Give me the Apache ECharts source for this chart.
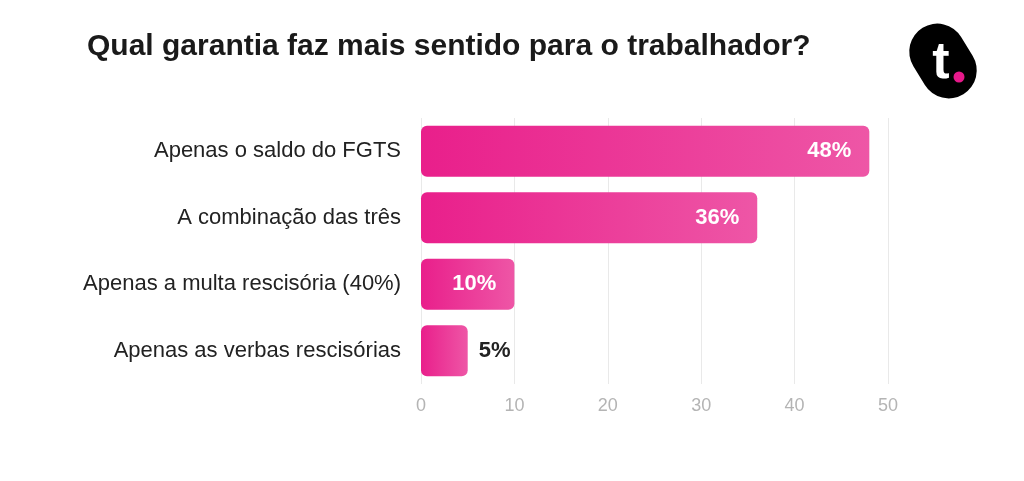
<!DOCTYPE html>
<html>
<head>
<meta charset="utf-8">
<script src="https://cdn.jsdelivr.net/npm/echarts@6/dist/echarts.min.js"></script>
<style>html,body{margin:0;padding:0;background:#fff;}#c{width:1024px;height:481px;}</style>
</head>
<body>
<div id="c"></div>
<script>
const titleText = 'Qual garantia faz mais sentido para o trabalhador?';
const categories = ['Apenas o saldo do FGTS', 'A combinação das três', 'Apenas a multa rescisória (40%)', 'Apenas as verbas rescisórias'];
const values = [48, 36, 10, 5];
const axisTicks = [0, 10, 20, 30, 40, 50];

const chart = echarts.init(document.getElementById('c'), null, {renderer: 'canvas'});
const font = 'Liberation Sans';
const grad = new echarts.graphic.LinearGradient(0, 0, 1, 0, [
  {offset: 0, color: '#e91f8b'},
  {offset: 1, color: '#ee56a6'}
]);
const data = values.map(v => ({
  value: v,
  label: v < 8 ? {position: 'right', distance: 11, color: '#222'} : {position: 'insideRight', distance: 18, color: '#fff'}
}));
chart.setOption({
  animation: false,
  backgroundColor: '#fff',
  title: {
    text: titleText, left: 82, top: 27,
    textStyle: {fontFamily: font, fontSize: 30, fontWeight: 'bold', color: '#1a1a1a'}
  },
  grid: {left: 421, right: 136, top: 118, bottom: 97},
  xAxis: {
    type: 'value', min: axisTicks[0], max: axisTicks[axisTicks.length - 1], interval: 10,
    axisLine: {show: false}, axisTick: {show: false},
    splitLine: {show: true, lineStyle: {color: '#e9e9e9', width: 1}},
    axisLabel: {color: '#b4b4b4', fontSize: 18, fontFamily: font, margin: 13}
  },
  yAxis: {
    type: 'category', data: categories, inverse: true,
    axisLine: {show: false}, axisTick: {show: false},
    axisLabel: {color: '#222', fontSize: 22, fontFamily: font, margin: 20}
  },
  series: [{
    type: 'bar', data: data, barWidth: 51,
    itemStyle: {color: grad, borderRadius: 6},
    label: {show: true, formatter: '{c}%', fontSize: 22, fontWeight: 'bold', fontFamily: font}
  }],
  graphic: [{
    type: 'group', x: 943, y: 61,
    children: [
      {type: 'rect', rotation: 0.55, shape: {x: -28, y: -39, width: 56, height: 78, r: 28}, style: {fill: '#000'}},
      {type: 'text', x: -2, y: 3, style: {text: 't', fill: '#fff', font: 'bold 52px ' + font, align: 'center', verticalAlign: 'middle'}},
      {type: 'circle', shape: {cx: 16, cy: 16, r: 5.5}, style: {fill: '#e6198a'}}
    ]
  }]
});
</script>
</body>
</html>
